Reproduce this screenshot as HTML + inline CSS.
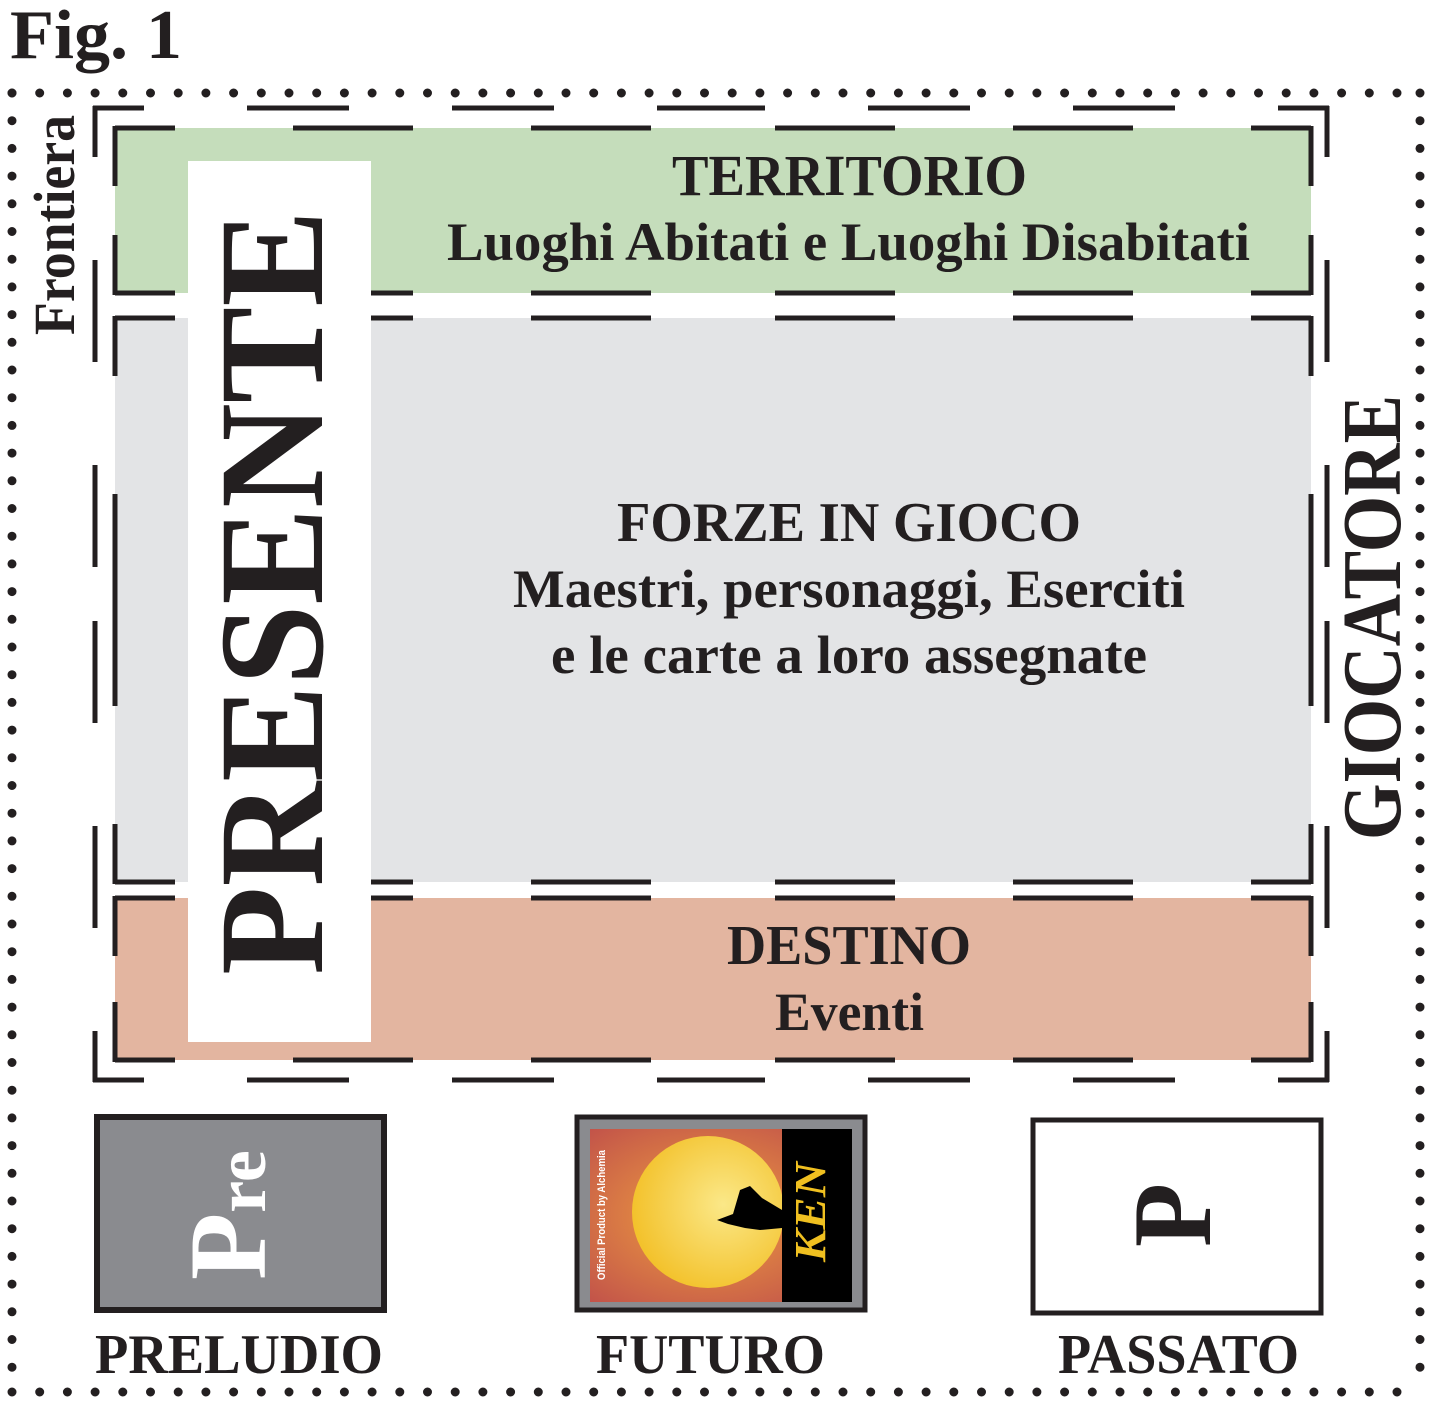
<!DOCTYPE html>
<html><head><meta charset="utf-8"><style>
html,body{margin:0;padding:0;background:#fff}
svg{display:block}
text{font-family:"Liberation Serif",serif;font-weight:bold;fill:#231f20}
</style></head><body>
<svg width="1431" height="1407" viewBox="0 0 1431 1407" xmlns="http://www.w3.org/2000/svg">
<defs>
<radialGradient id="sky" cx="0.45" cy="0.5" r="0.7">
<stop offset="0" stop-color="#f0a040"/><stop offset="1" stop-color="#c0504a"/>
</radialGradient>
<radialGradient id="sun" cx="0.6" cy="0.45" r="0.6">
<stop offset="0" stop-color="#fbe888"/><stop offset="1" stop-color="#f3c22c"/>
</radialGradient>
<clipPath id="img"><rect x="590" y="1129" width="262" height="173"/></clipPath>
</defs>
<text x="10" y="58" font-size="70" textLength="172" lengthAdjust="spacingAndGlyphs">Fig. 1</text>

<g stroke="#231f20" stroke-width="9" stroke-linecap="round" stroke-dasharray="0 27.7" fill="none">
<line x1="12" y1="93" x2="1420" y2="93"/>
<line x1="12" y1="1392" x2="1420" y2="1392"/>
<line x1="12" y1="93" x2="12" y2="1392"/>
<line x1="1420" y1="93" x2="1420" y2="1392"/>
</g>

<rect x="115" y="128" width="1196" height="165" fill="#c5ddbb"/>
<rect x="115" y="318" width="1196" height="564" fill="#e3e4e6"/>
<rect x="115" y="898" width="1196" height="162" fill="#e3b5a0"/>

<g stroke="#231f20" stroke-width="5" fill="none" stroke-dasharray="120 118" stroke-dashoffset="60">
<line x1="115" y1="128" x2="713" y2="128"/><line x1="1311" y1="128" x2="713" y2="128"/>
<line x1="115" y1="293" x2="713" y2="293"/><line x1="1311" y1="293" x2="713" y2="293"/>
<line x1="115" y1="126" x2="115" y2="210"/><line x1="115" y1="295" x2="115" y2="210"/>
<line x1="1311" y1="126" x2="1311" y2="210"/><line x1="1311" y1="295" x2="1311" y2="210"/>
<line x1="115" y1="318" x2="713" y2="318"/><line x1="1311" y1="318" x2="713" y2="318"/>
<line x1="115" y1="882" x2="713" y2="882"/><line x1="1311" y1="882" x2="713" y2="882"/>
<line x1="115" y1="316" x2="115" y2="600"/><line x1="115" y1="884" x2="115" y2="600"/>
<line x1="1311" y1="316" x2="1311" y2="600"/><line x1="1311" y1="884" x2="1311" y2="600"/>
<line x1="115" y1="898" x2="713" y2="898"/><line x1="1311" y1="898" x2="713" y2="898"/>
<line x1="115" y1="1060" x2="713" y2="1060"/><line x1="1311" y1="1060" x2="713" y2="1060"/>
<line x1="115" y1="896" x2="115" y2="979"/><line x1="115" y1="1062" x2="115" y2="979"/>
<line x1="1311" y1="896" x2="1311" y2="979"/><line x1="1311" y1="1062" x2="1311" y2="979"/>
</g>
<g stroke="#231f20" stroke-width="5" fill="none" stroke-dasharray="102 103" stroke-dashoffset="51">
<line x1="93" y1="108" x2="711" y2="108"/><line x1="1329" y1="108" x2="711" y2="108"/>
<line x1="93" y1="1080" x2="711" y2="1080"/><line x1="1329" y1="1080" x2="711" y2="1080"/>
<line x1="95" y1="106" x2="95" y2="594"/><line x1="95" y1="1082" x2="95" y2="594"/>
<line x1="1327" y1="106" x2="1327" y2="594"/><line x1="1327" y1="1082" x2="1327" y2="594"/>
</g>

<rect x="188" y="161" width="183" height="881" fill="#fff"/>
<text transform="translate(322,975) rotate(-90)" font-size="150" textLength="765" lengthAdjust="spacingAndGlyphs">PRESENTE</text>

<text transform="translate(74,335) rotate(-90)" font-size="58" textLength="220" lengthAdjust="spacingAndGlyphs">Frontiera</text>
<text transform="translate(1400,840) rotate(-90)" font-size="84" textLength="445" lengthAdjust="spacingAndGlyphs">GIOCATORE</text>

<text x="672" y="195" font-size="58" textLength="355" lengthAdjust="spacingAndGlyphs">TERRITORIO</text>
<text x="447" y="260" font-size="54" textLength="803" lengthAdjust="spacingAndGlyphs">Luoghi Abitati e Luoghi Disabitati</text>
<text x="617" y="541" font-size="56" textLength="464" lengthAdjust="spacingAndGlyphs">FORZE IN GIOCO</text>
<text x="513" y="607" font-size="54" textLength="672" lengthAdjust="spacingAndGlyphs">Maestri, personaggi, Eserciti</text>
<text x="551" y="673" font-size="54" textLength="596" lengthAdjust="spacingAndGlyphs">e le carte a loro assegnate</text>
<text x="727" y="964" font-size="56" textLength="244" lengthAdjust="spacingAndGlyphs">DESTINO</text>
<text x="775" y="1030" font-size="54" textLength="149" lengthAdjust="spacingAndGlyphs">Eventi</text>

<rect x="97" y="1117" width="287" height="193" fill="#8a8b8f" stroke="#231f20" stroke-width="6"/>
<text transform="translate(265,1280) rotate(-90)" style="fill:#fff"><tspan font-size="110">P</tspan><tspan font-size="72">re</tspan></text>

<rect x="577" y="1117" width="288" height="193" fill="#8a8b8f" stroke="#231f20" stroke-width="5"/>
<g clip-path="url(#img)">
<rect x="590" y="1129" width="262" height="173" fill="url(#sky)"/>
<circle cx="708" cy="1212" r="76" fill="url(#sun)"/>
<rect x="782" y="1129" width="70" height="173" fill="#000"/>
<path d="M717 1220 L733 1214 L740 1190 L750 1186 L762 1198 L782 1210 L782 1228 L760 1230 L745 1228 L728 1224 Z" fill="#000"/>
</g>
<text transform="translate(825,1262) rotate(-90)" font-size="44" font-style="italic" style="fill:#f0c020" textLength="100" lengthAdjust="spacingAndGlyphs">KEN</text>
<text transform="translate(605,1280) rotate(-90)" font-size="11" style="fill:#fff;font-family:'Liberation Sans',sans-serif" textLength="130" lengthAdjust="spacingAndGlyphs">Official Product by Alchemia</text>

<rect x="1033" y="1120" width="288" height="193" fill="#fff" stroke="#231f20" stroke-width="5"/>
<text transform="translate(1210,1247) rotate(-90)" font-size="112" textLength="64" lengthAdjust="spacingAndGlyphs">P</text>

<text x="95" y="1373" font-size="56" textLength="288" lengthAdjust="spacingAndGlyphs">PRELUDIO</text>
<text x="596" y="1373" font-size="56" textLength="229" lengthAdjust="spacingAndGlyphs">FUTURO</text>
<text x="1058" y="1373" font-size="56" textLength="241" lengthAdjust="spacingAndGlyphs">PASSATO</text>
</svg>
</body></html>
